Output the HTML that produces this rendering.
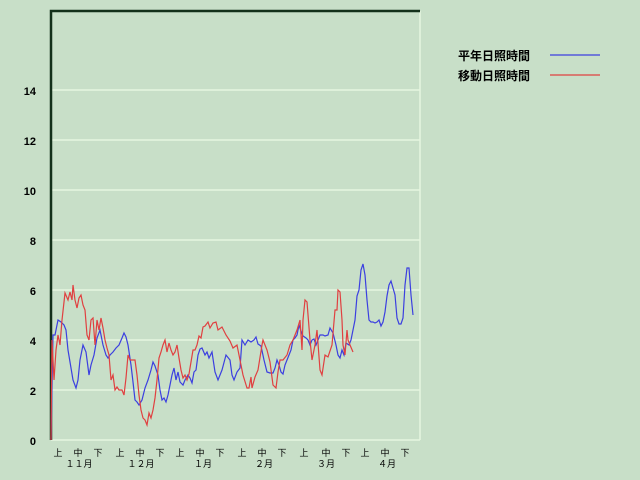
<!DOCTYPE html>
<html><head><meta charset="utf-8"><style>
body{margin:0;background:#c8dfc8;}
svg{display:block;font-family:"Liberation Sans","Noto Sans CJK JP",sans-serif;}
</style></head><body>
<svg width="640" height="480" viewBox="0 0 640 480">
<rect width="640" height="480" fill="#c8dfc8"/>
<g stroke="#e6f5e0" stroke-width="1.5">
<line x1="51" y1="90" x2="420" y2="90"/><line x1="51" y1="140" x2="420" y2="140"/>
<line x1="51" y1="190" x2="420" y2="190"/><line x1="51" y1="240" x2="420" y2="240"/>
<line x1="51" y1="290" x2="420" y2="290"/><line x1="51" y1="340" x2="420" y2="340"/>
<line x1="51" y1="390" x2="420" y2="390"/><line x1="51" y1="440" x2="420" y2="440"/>
<line x1="420" y1="11" x2="420" y2="440"/>
</g>
<polyline fill="none" stroke="#13301a" stroke-width="2.5" points="51,440 51,11 420,11"/>
<g font-size="11" font-weight="bold" fill="#000" text-anchor="end">
<text x="36" y="95">14</text><text x="36" y="145">12</text><text x="36" y="195">10</text>
<text x="36" y="245">8</text><text x="36" y="295">6</text><text x="36" y="345">4</text>
<text x="36" y="395">2</text><text x="36" y="445">0</text>
</g>
<g font-size="9" fill="#000" text-anchor="middle">
<text x="58" y="456">上</text><text x="78" y="456">中</text><text x="98" y="456">下</text>
<text x="120" y="456">上</text><text x="140" y="456">中</text><text x="160" y="456">下</text>
<text x="180" y="456">上</text><text x="200" y="456">中</text><text x="220" y="456">下</text>
<text x="242" y="456">上</text><text x="262" y="456">中</text><text x="282" y="456">下</text>
<text x="304" y="456">上</text><text x="326" y="456">中</text><text x="346" y="456">下</text>
<text x="365" y="456">上</text><text x="385" y="456">中</text><text x="405" y="456">下</text>
<text x="79" y="467">１１月</text><text x="141" y="467">１２月</text><text x="203" y="467">１月</text>
<text x="264" y="467">２月</text><text x="326" y="467">３月</text><text x="387" y="467">４月</text>
</g>
<polyline fill="none" stroke="#3b3fe0" stroke-width="1.2" points="51,440 53,335 55,335 58,320 61,322 64,325 66,330 68,350 70,362 73,380 76,388 78,380 80,360 83,345 86,352 89,375 91,365 94,355 97,338 100,330 103,345 106,355 108,358 110,355 113,352 116,348 119,345 122,338 124,333 126,337 128,345 131,365 133,382 135,400 137,402 139,405 142,400 145,388 148,380 151,370 153,362 155,366 158,375 160,390 162,400 164,398 166,402 168,395 170,385 172,375 174,368 176,380 178,372 180,382 183,385 185,380 188,375 190,378 192,383 194,372 196,370 198,355 200,349 202,348 205,355 207,352 209,358 212,352 215,372 218,380 222,370 226,355 230,360 232,375 234,380 237,372 240,368 242,340 245,345 248,340 251,342 254,340 256,337 258,344 261,346 264,360 267,372 270,373 273,373 275,368 277,360 279,365 281,372 283,374 285,365 287,360 289,355 291,350 293,340 295,338 297,335 299,325 301,331 303,336 306,338 308,340 310,345 312,340 314,339 316,345 318,340 320,335 323,335 325,336 328,335 330,328 333,333 336,345 338,355 340,358 342,350 344,355 346,343 349,345 351,340 353,330 355,320 357,296 359,290 361,270 363,264 365,275 367,300 369,320 371,322 373,322 375,323 377,322 379,320 381,326 383,322 385,312 387,296 389,285 391,281 393,288 395,295 397,318 399,324 401,324 403,318 405,285 407,268 409,268 411,295 413,315"/>
<polyline fill="none" stroke="#e04040" stroke-width="1.2" points="51,440 52,340 54,380 56,350 58,335 60,345 62,320 65,293 68,300 70,292 72,300 73,285 75,300 77,308 79,298 81,295 83,305 85,310 87,335 89,340 91,320 93,318 95,345 97,320 99,330 101,318 103,328 105,340 107,348 109,355 111,380 113,375 115,390 117,387 119,390 122,390 124,395 126,378 128,355 130,360 133,360 135,360 137,375 139,395 141,410 143,418 145,420 147,425 149,413 151,418 153,410 155,398 157,380 159,358 161,352 163,345 165,340 167,352 169,343 171,350 173,355 175,352 177,345 179,358 181,370 183,378 185,375 187,380 189,374 191,362 193,350 195,350 197,345 199,336 201,338 203,327 205,326 208,322 210,328 213,323 216,322 218,330 222,327 226,335 230,341 233,348 237,345 243,375 247,388 249,388 251,377 252,388 255,377 258,370 262,345 263,340 267,350 270,362 273,385 276,388 278,372 280,360 283,360 287,355 290,345 293,340 297,330 300,320 302,350 303,320 305,300 307,302 310,340 312,360 313,355 315,345 317,330 320,370 322,375 325,355 328,357 332,345 335,310 337,310 338,290 340,292 342,320 343,345 345,355 347,330 348,340 350,345 353,352"/>
<g font-size="12" font-weight="bold" fill="#000">
<text x="458" y="60">平年日照時間</text><text x="458" y="80">移動日照時間</text>
</g>
<line x1="550" y1="55" x2="600" y2="55" stroke="#3b3fe0" stroke-width="1.2"/>
<line x1="550" y1="75" x2="600" y2="75" stroke="#e04040" stroke-width="1.2"/>
</svg>
</body></html>
